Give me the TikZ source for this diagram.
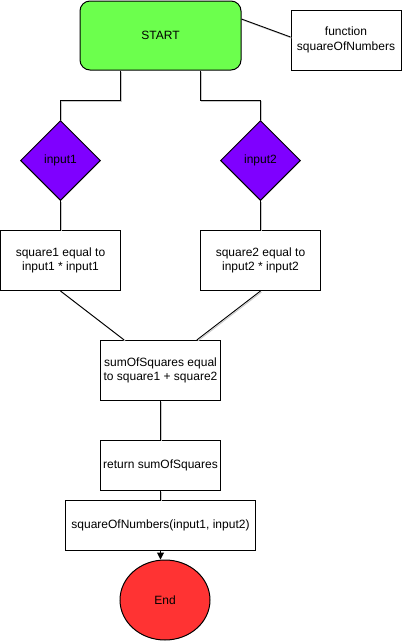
\documentclass[tikz,border=0pt]{standalone}
\usepackage{fontspec}
\setmainfont{Liberation Sans}
\usepackage{xcolor}
\usepackage{tikz}
\usetikzlibrary{arrows.meta,positioning,calc,shapes.geometric}
\definecolor{sqgreen}{RGB}{108,255,77}
\definecolor{sqpurple}{RGB}{127,0,255}
\definecolor{sqred}{RGB}{255,51,51}
\definecolor{sqshade}{RGB}{200,200,200}
\tikzset{
  every node/.style={font=\fontsize{12}{14.5}\selectfont, align=center, inner sep=0pt},
  box/.style={draw, line width=1pt, fill=white, minimum width=120pt, minimum height=60pt},
  startbox/.style={draw, line width=1pt, rounded corners=10pt, fill=sqgreen,
    minimum width=161pt, minimum height=69pt},
  inputdia/.style={draw, diamond, line width=1pt, fill=sqpurple,
    minimum width=80pt, minimum height=80pt},
  endcirc/.style={draw, ellipse, line width=1pt, fill=sqred,
    minimum width=90pt, minimum height=80pt},
  link/.style={draw=black, line width=0.9pt,
    preaction={draw=sqshade, line width=0.9pt, transform canvas={shift={(1pt,-1pt)}}}},
  arrow/.style={-{Triangle[length=7pt, width=7pt]}, line width=1pt},
}

\begin{document}
\begin{tikzpicture}[x=1pt, y=1pt]
  \useasboundingbox (0,0) rectangle (411,-641);

  \node[startbox] (start) at (160.5,-35.5) {START};
  \node[box, minimum width=110pt] (func) at (346,-40) {function\\squareOfNumbers};

  \node[inputdia] (in1) at (60.5,-160.5) {input1};
  \node[inputdia] (in2) at (260.5,-160.5) {input2};

  \node[box] (sq1) at (60.5,-260.5) {square1 equal to\\input1 * input1};
  \node[box] (sq2) at (260.5,-260.5) {square2 equal to\\input2 * input2};

  \node[box] (sum) at (160.5,-370.5) {sumOfSquares equal\\to square1 + square2};
  \node[box, minimum height=50pt] (ret) at (160.5,-465.5) {return sumOfSquares};
  \node[box, minimum width=190pt, minimum height=50pt] (call) at (160.5,-525.5)
    {squareOfNumbers(input1, input2)};
  \node[endcirc] (endn) at (165,-600) {End};

  % connectors
  \draw[link] ([yshift=16.5pt]start.east) -- ([yshift=3pt]func.west);
  \draw[link] ([xshift=-40pt]start.south) -- ++(0,-30) -| (in1.north);
  \draw[link] ([xshift=40pt]start.south) -- ++(0,-30) -| (in2.north);
  \draw[link] (in1.south) -- (sq1.north);
  \draw[link] (in2.south) -- (sq2.north);
  \draw[link] (sq1.south) -- ($(sum.north west)!0.2!(sum.north east)$);
  \draw[link] (sq2.south) -- ($(sum.north west)!0.8!(sum.north east)$);
  \draw[link] (sum.south) -- (ret.north);
  \draw[link] (ret.south) -- (call.north);
  \draw[arrow] (call.south) -- (call.south |- endn.north);
\end{tikzpicture}
\end{document}
